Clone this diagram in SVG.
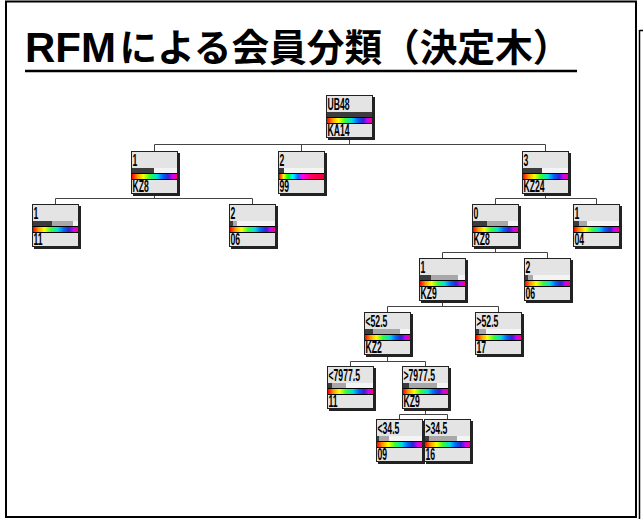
<svg xmlns="http://www.w3.org/2000/svg" width="643" height="519" viewBox="0 0 643 519">
<style>
.title{font-family:"Liberation Sans","Noto Sans CJK JP",sans-serif;font-weight:bold;fill:#000}
.cjk{font-family:"Noto Sans CJK JP",sans-serif;font-weight:bold;fill:#000}
.sh{fill:#222}
.box{fill:#e4e4e4;stroke:#222;stroke-width:1}
.bl{fill:#f4f4f4}
.gr{fill:#a8a8a8}
.dk{fill:#3c3c3c}
.sep{stroke:#000;stroke-width:1}
.rb{fill:url(#rain)}
.rb2{fill:url(#rain2)}
.lb{font-family:"Liberation Sans",sans-serif;font-size:16px;font-weight:bold;fill:#000}
.con{fill:none;stroke:#444;stroke-width:1}
</style>
<defs>
<linearGradient id="rain" x1="0" y1="0" x2="1" y2="0">
<stop offset="0" stop-color="#ff0000"/>
<stop offset="0.12" stop-color="#ff9900"/>
<stop offset="0.25" stop-color="#ffff00"/>
<stop offset="0.4" stop-color="#33ff33"/>
<stop offset="0.55" stop-color="#00dddd"/>
<stop offset="0.68" stop-color="#0066ff"/>
<stop offset="0.8" stop-color="#3322cc"/>
<stop offset="0.9" stop-color="#cc00ff"/>
<stop offset="1" stop-color="#ff0077"/>
</linearGradient>
<linearGradient id="rain2" x1="0" y1="0" x2="1" y2="0">
<stop offset="0" stop-color="#ff0000"/>
<stop offset="0.1" stop-color="#ffff00"/>
<stop offset="0.2" stop-color="#00ff00"/>
<stop offset="0.3" stop-color="#00ffff"/>
<stop offset="0.42" stop-color="#0070ff"/>
<stop offset="0.52" stop-color="#ff00ff"/>
<stop offset="0.7" stop-color="#ff0066"/>
<stop offset="1" stop-color="#ee0033"/>
</linearGradient>
<g id="nodebase">
<rect class="sh" x="2" y="2" width="47" height="43"/>
<rect class="box" x="0.5" y="0.5" width="46" height="42"/>
<rect class="bl" x="1" y="17" width="45" height="5"/>
<line class="sep" x1="1" y1="22.5" x2="46" y2="22.5"/>
<line class="sep" x1="1" y1="28.5" x2="46" y2="28.5"/>
</g>
</defs>

<rect x="6" y="1.5" width="630" height="515.5" fill="#fff" stroke="#000" stroke-width="2"/>
<path d="M639.5 30 V519 M639.5 30.5 H643" stroke="#000" stroke-width="1.5" fill="none"/>

<g id="title">
<text class="title" x="25" y="62" font-size="42">RFM</text>
<text class="cjk" x="119.5" y="61" font-size="38" textLength="451" lengthAdjust="spacingAndGlyphs">による会員分類（決定木）</text>
<line x1="25" y1="71" x2="577" y2="71" stroke="#000" stroke-width="2.5"/>
</g>

<g id="connectors" class="con">
<path d="M349.5 138 V144.5 M154.5 144.5 H545.5 M154.5 144.5 V151 M301.5 144.5 V151 M545.5 144.5 V151"/>
<path d="M154.5 194 V198.5 M55.5 198.5 H252.5 M55.5 198.5 V204 M252.5 198.5 V204"/>
<path d="M545.5 194 V198.5 M495.5 198.5 H596.5 M495.5 198.5 V204 M596.5 198.5 V204"/>
<path d="M495.5 247 V252.5 M442.5 252.5 H547.5 M442.5 252.5 V258 M547.5 252.5 V258"/>
<path d="M442.5 301 V306.5 M387.5 306.5 H498.5 M387.5 306.5 V312 M498.5 306.5 V312"/>
<path d="M387.5 355 V361.5 M350.5 361.5 H425.5 M350.5 361.5 V366 M425.5 361.5 V366"/>
<path d="M425.5 409 V414.5 M399.5 414.5 H447.5 M399.5 414.5 V419 M447.5 414.5 V419"/>
</g>

<g id="n_root" transform="translate(326,95)">
<use href="#nodebase"/>
<rect class="dk" x="1" y="17" width="45" height="5"/>
<rect class="rb" x="1" y="23" width="45" height="5"/>
<text class="lb" transform="translate(1.5,14.5) scale(0.54,1)">UB48</text>
<text class="lb" transform="translate(1.5,40.5) scale(0.54,1)">KA14</text>
</g>

<g id="n_1_kz8" transform="translate(131,151)">
<use href="#nodebase"/>
<rect class="dk" x="1" y="17" width="22" height="5"/>
<rect class="rb" x="1" y="23" width="45" height="5"/>
<text class="lb" transform="translate(1.5,14.5) scale(0.54,1)">1</text>
<text class="lb" transform="translate(1.5,40.5) scale(0.54,1)">KZ8</text>
</g>

<g id="n_2_99" transform="translate(278,151)">
<use href="#nodebase"/>
<rect class="dk" x="1" y="17" width="5" height="5"/>
<rect class="rb2" x="1" y="23" width="45" height="5"/>
<text class="lb" transform="translate(1.5,14.5) scale(0.54,1)">2</text>
<text class="lb" transform="translate(1.5,40.5) scale(0.54,1)">99</text>
</g>

<g id="n_3_kz24" transform="translate(522,151)">
<use href="#nodebase"/>
<rect class="dk" x="1" y="17" width="19" height="5"/>
<rect class="rb" x="1" y="23" width="45" height="5"/>
<text class="lb" transform="translate(1.5,14.5) scale(0.54,1)">3</text>
<text class="lb" transform="translate(1.5,40.5) scale(0.54,1)">KZ24</text>
</g>

<g id="n_1_11" transform="translate(32,204)">
<use href="#nodebase"/>
<rect class="gr" x="1" y="17" width="40" height="5"/>
<rect class="dk" x="1" y="17" width="19" height="5"/>
<rect class="rb" x="1" y="23" width="45" height="5"/>
<text class="lb" transform="translate(1.5,14.5) scale(0.54,1)">1</text>
<text class="lb" transform="translate(1.5,40.5) scale(0.54,1)">11</text>
</g>

<g id="n_2_06a" transform="translate(229,204)">
<use href="#nodebase"/>
<rect class="gr" x="1" y="17" width="7" height="5"/>
<rect class="dk" x="1" y="17" width="3" height="5"/>
<rect class="rb" x="1" y="23" width="45" height="5"/>
<text class="lb" transform="translate(1.5,14.5) scale(0.54,1)">2</text>
<text class="lb" transform="translate(1.5,40.5) scale(0.54,1)">06</text>
</g>

<g id="n_0_kz8" transform="translate(472,204)">
<use href="#nodebase"/>
<rect class="gr" x="1" y="17" width="35" height="5"/>
<rect class="dk" x="1" y="17" width="14" height="5"/>
<rect class="rb" x="1" y="23" width="45" height="5"/>
<text class="lb" transform="translate(1.5,14.5) scale(0.54,1)">0</text>
<text class="lb" transform="translate(1.5,40.5) scale(0.54,1)">KZ8</text>
</g>

<g id="n_1_04" transform="translate(573,204)">
<use href="#nodebase"/>
<rect class="gr" x="1" y="17" width="13" height="5"/>
<rect class="dk" x="1" y="17" width="5" height="5"/>
<rect class="rb" x="1" y="23" width="45" height="5"/>
<text class="lb" transform="translate(1.5,14.5) scale(0.54,1)">1</text>
<text class="lb" transform="translate(1.5,40.5) scale(0.54,1)">04</text>
</g>

<g id="n_1_kz9" transform="translate(419,258)">
<use href="#nodebase"/>
<rect class="gr" x="1" y="17" width="38" height="5"/>
<rect class="dk" x="1" y="17" width="11" height="5"/>
<rect class="rb" x="1" y="23" width="45" height="5"/>
<text class="lb" transform="translate(1.5,14.5) scale(0.54,1)">1</text>
<text class="lb" transform="translate(1.5,40.5) scale(0.54,1)">KZ9</text>
</g>

<g id="n_2_06b" transform="translate(524,258)">
<use href="#nodebase"/>
<rect class="gr" x="1" y="17" width="8" height="5"/>
<rect class="dk" x="1" y="17" width="3" height="5"/>
<rect class="rb" x="1" y="23" width="45" height="5"/>
<text class="lb" transform="translate(1.5,14.5) scale(0.54,1)">2</text>
<text class="lb" transform="translate(1.5,40.5) scale(0.54,1)">06</text>
</g>

<g id="n_lt52_kz2" transform="translate(364,312)">
<use href="#nodebase"/>
<rect class="gr" x="1" y="17" width="35" height="5"/>
<rect class="dk" x="1" y="17" width="8" height="5"/>
<rect class="rb" x="1" y="23" width="45" height="5"/>
<text class="lb" transform="translate(1.5,14.5) scale(0.54,1)">&lt;52.5</text>
<text class="lb" transform="translate(1.5,40.5) scale(0.54,1)">KZ2</text>
</g>

<g id="n_gt52_17" transform="translate(475,312)">
<use href="#nodebase"/>
<rect class="gr" x="1" y="17" width="10" height="5"/>
<rect class="dk" x="1" y="17" width="3" height="5"/>
<rect class="rb" x="1" y="23" width="45" height="5"/>
<text class="lb" transform="translate(1.5,14.5) scale(0.54,1)">&gt;52.5</text>
<text class="lb" transform="translate(1.5,40.5) scale(0.54,1)">17</text>
</g>

<g id="n_lt7977_11" transform="translate(327,366)">
<use href="#nodebase"/>
<rect class="gr" x="1" y="17" width="18" height="5"/>
<rect class="dk" x="1" y="17" width="4" height="5"/>
<rect class="rb" x="1" y="23" width="45" height="5"/>
<text class="lb" transform="translate(1.5,14.5) scale(0.54,1)">&lt;7977.5</text>
<text class="lb" transform="translate(1.5,40.5) scale(0.54,1)">11</text>
</g>

<g id="n_gt7977_kz9" transform="translate(402,366)">
<use href="#nodebase"/>
<rect class="gr" x="1" y="17" width="34" height="5"/>
<rect class="dk" x="1" y="17" width="6" height="5"/>
<rect class="rb" x="1" y="23" width="45" height="5"/>
<text class="lb" transform="translate(1.5,14.5) scale(0.54,1)">&gt;7977.5</text>
<text class="lb" transform="translate(1.5,40.5) scale(0.54,1)">KZ9</text>
</g>

<g id="n_lt34_09" transform="translate(376,419)">
<use href="#nodebase"/>
<rect class="gr" x="1" y="17" width="12" height="5"/>
<rect class="dk" x="1" y="17" width="2" height="5"/>
<rect class="rb" x="1" y="23" width="45" height="5"/>
<text class="lb" transform="translate(1.5,14.5) scale(0.54,1)">&lt;34.5</text>
<text class="lb" transform="translate(1.5,40.5) scale(0.54,1)">09</text>
</g>

<g id="n_gt34_16" transform="translate(424,419)">
<use href="#nodebase"/>
<rect class="gr" x="1" y="17" width="32" height="5"/>
<rect class="dk" x="1" y="17" width="4" height="5"/>
<rect class="rb" x="1" y="23" width="45" height="5"/>
<text class="lb" transform="translate(1.5,14.5) scale(0.54,1)">&gt;34.5</text>
<text class="lb" transform="translate(1.5,40.5) scale(0.54,1)">16</text>
</g>
</svg>
